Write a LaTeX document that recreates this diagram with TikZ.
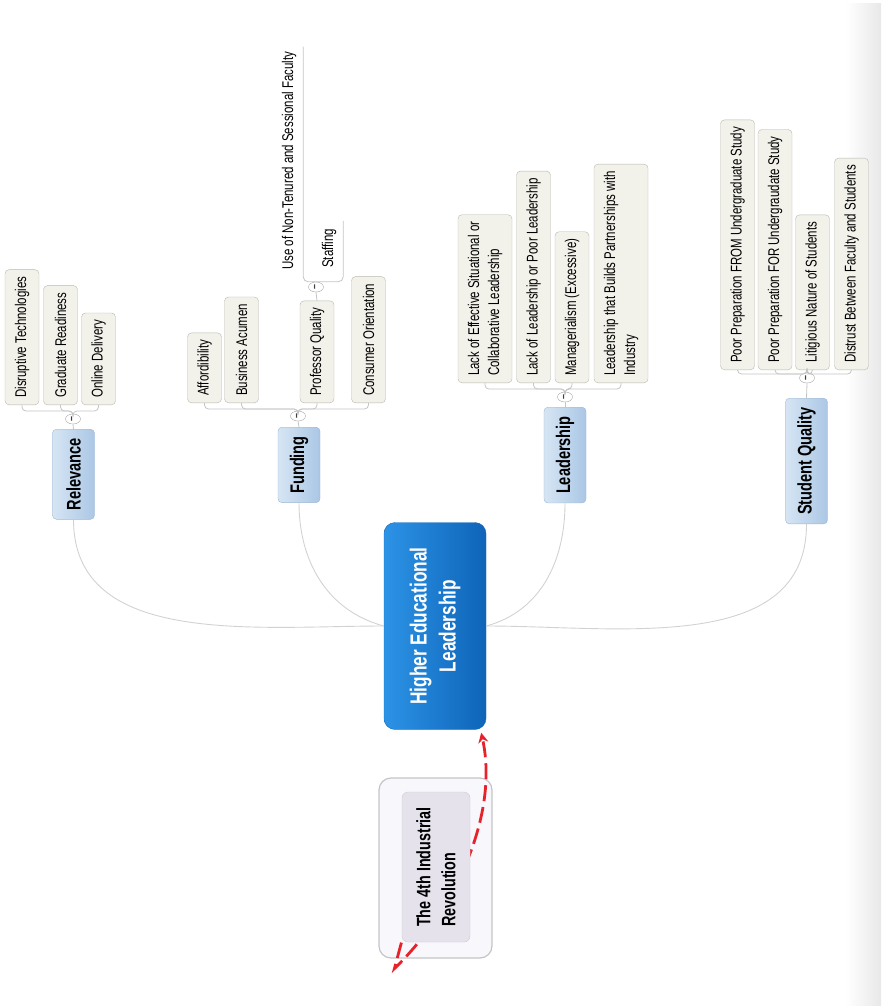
\documentclass[tikz,border=0pt]{standalone}
\usepackage{fontspec}
\setmainfont{Liberation Sans}[FakeStretch=0.74]
\usepackage{tikz}
\usetikzlibrary{shapes.geometric, arrows.meta, calc}
\definecolor{leafcream}{HTML}{F2F1EA}
\definecolor{leafedge}{HTML}{B8B8AE}
\definecolor{branchlight}{HTML}{D6E5F4}
\definecolor{branchdark}{HTML}{ABC7E5}
\definecolor{branchedge}{HTML}{9DB7D3}
\definecolor{hubleft}{HTML}{2C93E6}
\definecolor{hubright}{HTML}{0E64B8}
\definecolor{hubedge}{HTML}{1A6DBE}
\definecolor{irinner}{HTML}{E5E2EC}
\definecolor{iredge}{HTML}{CFCCD7}
\definecolor{irouter}{HTML}{F8F7FB}
\definecolor{framegray}{HTML}{C4C4C4}
\definecolor{linkgray}{HTML}{D2D2D2}
\definecolor{relred}{HTML}{E8222A}

\begin{document}
\begin{tikzpicture}[x=1pt, y=1pt,
  leaf/.style={draw=leafedge, fill=leafcream, rounded corners=4pt, rotate=90, anchor=west, minimum height=34pt, inner xsep=7pt, inner ysep=3pt, align=left, font=\fontsize{15.5}{20}\selectfont},
  leafwide/.style={leaf, minimum height=54pt},
  plainleaf/.style={rotate=90, anchor=west, minimum height=28pt, inner xsep=2pt, font=\fontsize{15.5}{20}\selectfont},
  branch/.style={draw=branchedge, left color=branchlight, right color=branchdark, rounded corners=4pt, rotate=90, anchor=east, minimum height=42pt, inner xsep=9pt, font=\fontsize{19.7}{22}\selectfont\bfseries},
  hub/.style={draw=hubedge, left color=hubleft, right color=hubright, rounded corners=11pt, rotate=90, minimum width=207pt, minimum height=102pt, text=white, align=center, font=\fontsize{23.3}{29}\selectfont\bfseries},
  togglemark/.style={ellipse, draw=black!35, fill=white, minimum width=15pt, minimum height=10pt, inner sep=0pt, text=black!75, font=\fontsize{12}{12}\selectfont\bfseries},
  irframe/.style={draw=framegray, fill=irouter, rounded corners=12pt, line width=1.2pt, minimum width=113pt, minimum height=180pt},
  irtopic/.style={draw=iredge, fill=irinner, rounded corners=6pt, rotate=90, minimum width=150pt, minimum height=68pt, align=left, font=\fontsize{19.4}{25}\selectfont\bfseries},
  subline/.style={draw=framegray, line width=0.8pt, rounded corners=4pt},
  mainline/.style={draw=linkgray, line width=0.9pt},
  relarrow/.style={draw=relred, line width=2.8pt, dash pattern=on 16pt off 6pt, -{Stealth[length=10pt, width=10pt]}}
]
  \useasboundingbox (0,0) rectangle (881,-1006);
  \fill[left color=white, right color=black!9] (846,-4) rectangle (881,-1006);

  % central topic
  \node[hub] (hel) at (435,-626) {Higher Educational\\Leadership};

  % main topics
  \node[branch] (rel) at (73.5,-429) {Relevance};
  \node[branch] (fund) at (299,-427) {Funding};
  \node[branch] (lead) at (565,-407) {Leadership};
  \node[branch] (stud) at (806.5,-398) {Student Quality};

  \node[togglemark] (relc) at (73,-419) {\rotatebox{90}{--}};
  \node[togglemark] (fundc) at (298,-416) {\rotatebox{90}{--}};
  \node[togglemark] (leadc) at (565,-397) {\rotatebox{90}{--}};
  \node[togglemark] (studc) at (807,-378) {\rotatebox{90}{--}};

  % subtopics
  \node[leaf] (dt) at (22,-405) {Disruptive Technologies};
  \node[leaf] (gr) at (60.5,-405) {Graduate Readiness};
  \node[leaf] (od) at (98.5,-405) {Online Delivery};

  \node[leaf] (af) at (204.5,-403) {Affordibility};
  \node[leaf] (ba) at (241.5,-403) {Business Acumen};
  \node[leaf] (pq) at (317,-403) {Professor Quality};
  \node[leaf] (co) at (368.5,-403) {Consumer Orientation};

  \node[leafwide] (le) at (485,-383) {Lack of Effective Situational or\\Collaborative Leadership};
  \node[leaf] (ll) at (533.5,-383) {Lack of Leadership or Poor Leadership};
  \node[leaf] (mg) at (572,-383) {Managerialism (Excessive)};
  \node[leafwide] (lp) at (621,-383) {Leadership that Builds Partnerships with\\Industry};

  \node[leaf] (pf) at (737.5,-370) {Poor Preparation FROM Undergraduate Study};
  \node[leaf] (pu) at (775,-370) {Poor Preparation FOR Undergraudate Study};
  \node[leaf] (ln) at (812.5,-370) {Litigious Nature of Students};
  \node[leaf] (db) at (851.5,-370) {Distrust Between Faculty and Students};

  % professor quality children
  \node[togglemark] (pqc) at (316,-287) {\rotatebox{90}{--}};
  \node[plainleaf] (use) at (289,-272) {Use of Non-Tenured and Sessional Faculty};
  \node[plainleaf] (staff) at (329,-270) {Staffing};

  % brackets
  \foreach \k in {dt,gr,od}
    \draw[subline] (relc.north) |- ($(\k.west)+(0,-6)$) -- (\k.west);
  \foreach \k in {af,ba,pq,co}
    \draw[subline] (fundc.north) |- ($(\k.west)+(0,-6)$) -- (\k.west);
  \foreach \k in {le,ll,mg,lp}
    \draw[subline] (leadc.north) |- ($(\k.west)+(0,-6)$) -- (\k.west);
  \foreach \k in {pf,pu,ln,db}
    \draw[subline] (studc.north) |- ($(\k.west)+(0,-4)$) -- (\k.west);
  \draw[subline] (relc.south) -- (rel.east);
  \draw[subline] (fundc.south) -- (fund.east);
  \draw[subline] (leadc.south) -- (lead.east);
  \draw[subline] (studc.south) -- (stud.east);
  \draw[subline, rounded corners=5pt] ($(use.south east)+(0,3)$) |- (pqc.north) -| ($(staff.south east)+(0,6)$);
  \draw[subline] (pqc.south) -- (pq.east);

  % links to the central topic
  \draw[mainline] (rel.west) to[out=-90, in=180] (hel.north);
  \draw[mainline] (fund.west) to[out=-90, in=165] (hel.north);
  \draw[mainline] (lead.west) to[out=-90, in=15] (hel.south);
  \draw[mainline] (stud.west) to[out=-90, in=0] (hel.south);

  % floating topic and relationship
  \node[irframe] (irbox) at (435.5,-868) {};
  \coordinate (irtail) at ($(irbox.south west)+(16,-10)$);
  \draw[relarrow] ($(irbox.south west)+(23,16)$) -- (irtail) .. controls ($(irtail)+(55,53)$) and ($(hel.south west)+(14,-90)$) .. ($(hel.south west)+(-5,-3)$);
  \node[irtopic] (ir) at (436,-867) {The 4th Industrial\\Revolution};
\end{tikzpicture}
\end{document}
